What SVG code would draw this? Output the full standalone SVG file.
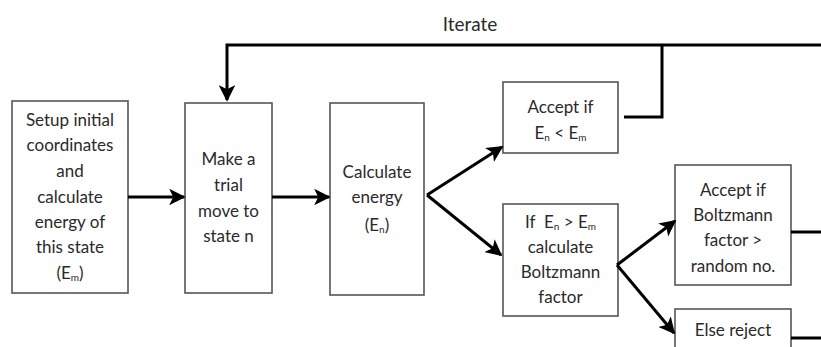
<svg xmlns="http://www.w3.org/2000/svg" width="821" height="347" viewBox="0 0 821 347">
<style>
.box{fill:#fff;stroke:#555;stroke-width:1.6}
.t{font-family:Lato,"Open Sans","Liberation Sans",sans-serif;font-size:17px;fill:#2a2a2a;text-anchor:middle}
.s{font-size:10px}
.c{fill:none;stroke:#000;stroke-width:3}
</style>
<defs>
<marker id="ah" viewBox="0 0 10 10" refX="9" refY="5" markerWidth="5.5" markerHeight="5.5" orient="auto" markerUnits="strokeWidth">
<path d="M0,0 L10,5 L0,10 L2.5,5 Z" fill="#000"/>
</marker>
</defs>
<rect width="821" height="347" fill="#fff"/>
<text class="t" x="470" y="31" style="font-size:19px">Iterate</text>
<g id="n1">
<rect class="box" x="12" y="101" width="116" height="192"/>
<text class="t" x="70" y="126">Setup initial</text>
<text class="t" x="70" y="151">coordinates</text>
<text class="t" x="70" y="177">and</text>
<text class="t" x="70" y="203">calculate</text>
<text class="t" x="70" y="228">energy of</text>
<text class="t" x="70" y="253">this state</text>
<text class="t" x="70" y="279">(E<tspan class="s" dy="2">m</tspan><tspan dy="-2">)</tspan></text>
</g>
<g id="n2">
<rect class="box" x="185" y="103" width="87" height="190"/>
<text class="t" x="228.5" y="165">Make a</text>
<text class="t" x="228.5" y="191">trial</text>
<text class="t" x="228.5" y="217">move to</text>
<text class="t" x="228.5" y="242">state n</text>
</g>
<g id="n3">
<rect class="box" x="330" y="103" width="94" height="192"/>
<text class="t" x="377" y="178">Calculate</text>
<text class="t" x="377" y="203">energy</text>
<text class="t" x="377" y="231">(E<tspan class="s" dy="2">n</tspan><tspan dy="-2">)</tspan></text>
</g>
<g id="n4">
<rect class="box" x="503" y="82" width="115" height="71"/>
<text class="t" x="560.5" y="113">Accept if</text>
<text class="t" x="560.5" y="139">E<tspan class="s" dy="2">n</tspan><tspan dy="-2"> &lt; E</tspan><tspan class="s" dy="2">m</tspan></text>
</g>
<g id="n5">
<rect class="box" x="503" y="204" width="115" height="112"/>
<text class="t" x="560.5" y="228" xml:space="preserve">If  E<tspan class="s" dy="2">n</tspan><tspan dy="-2"> &gt; E</tspan><tspan class="s" dy="2">m</tspan></text>
<text class="t" x="560.5" y="253">calculate</text>
<text class="t" x="560.5" y="278">Boltzmann</text>
<text class="t" x="560.5" y="303">factor</text>
</g>
<g id="n6">
<rect class="box" x="675" y="165" width="116" height="120"/>
<text class="t" x="733" y="196">Accept if</text>
<text class="t" x="733" y="221">Boltzmann</text>
<text class="t" x="733" y="246">factor &gt;</text>
<text class="t" x="733" y="272">random no.</text>
</g>
<g id="n7">
<rect class="box" x="675" y="309" width="116" height="50"/>
<text class="t" x="733" y="336">Else reject</text>
</g>
<g id="connectors">
<line class="c" x1="128" y1="197" x2="184" y2="197" marker-end="url(#ah)"/>
<line class="c" x1="272" y1="197" x2="329" y2="197" marker-end="url(#ah)"/>
<line class="c" x1="427" y1="195" x2="502" y2="147" marker-end="url(#ah)"/>
<line class="c" x1="427" y1="195" x2="501" y2="255" marker-end="url(#ah)"/>
<line class="c" x1="617" y1="265" x2="675" y2="221" marker-end="url(#ah)"/>
<line class="c" x1="617" y1="265" x2="674" y2="333" marker-end="url(#ah)"/>
<polyline class="c" points="624,117 662,117 662,45"/>
<polyline class="c" points="821,45 227,45 227,100" marker-end="url(#ah)"/>
<line class="c" x1="791" y1="232" x2="821" y2="232"/>
<line class="c" x1="791" y1="338" x2="821" y2="338"/>
</g>
</svg>
